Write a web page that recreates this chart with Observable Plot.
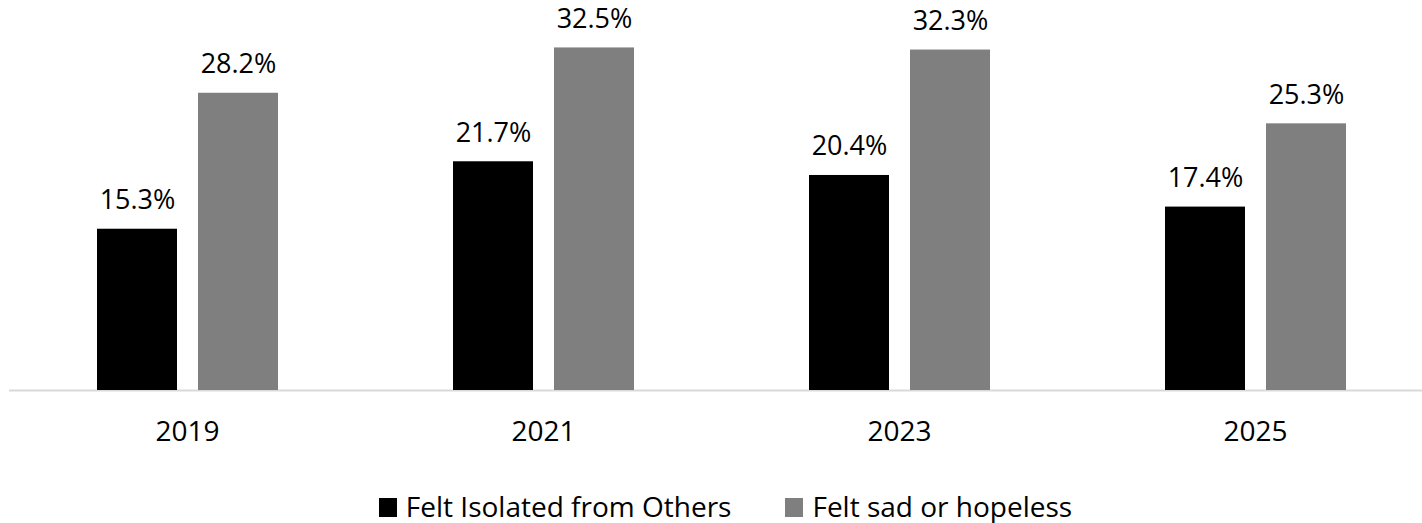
<!DOCTYPE html>
<html>
<head>
<meta charset="utf-8">
<script src="https://cdn.jsdelivr.net/npm/d3@7"></script>
<script src="https://cdn.jsdelivr.net/npm/@observablehq/plot@0.6"></script>
<style>
  html, body { margin: 0; padding: 0; background: #fff; }
  body { width: 1422px; height: 523px; overflow: hidden; font-family: "Open Sans", sans-serif; }
  #legend { display: flex; justify-content: center; align-items: center; gap: 54px; margin-top: 22px; padding-left: 29px; font-size: 28px; color: #000; line-height: 1; }
  .item { display: flex; align-items: center; gap: 9px; }
  .sw { width: 18px; height: 19px; display: inline-block; position: relative; top: 1px; }
</style>
</head>
<body>
<div id="chart"></div>
<div id="legend"></div>
<script>
const years = ["2019", "2021", "2023", "2025"];
const isolated = [15.3, 21.7, 20.4, 17.4];
const sad = [28.2, 32.5, 32.3, 25.3];
const seriesNames = ["Felt Isolated from Others", "Felt sad or hopeless"];
const seriesColors = ["#000000", "#7f7f7f"];

const data = years.flatMap((yr, i) => [
  {year: yr, series: seriesNames[0], value: isolated[i]},
  {year: yr, series: seriesNames[1], value: sad[i]}
]);

const chart = Plot.plot({
  width: 1422,
  height: 470,
  marginLeft: 8,
  marginRight: -12,
  marginTop: 0,
  marginBottom: 80,
  style: {fontFamily: "'Open Sans', sans-serif", background: "#fff", color: "#000"},
  fx: {domain: years, padding: 0, label: null},
  x: {domain: seriesNames, paddingInner: 0.2105, paddingOuter: 0.865, axis: null},
  y: {domain: [0, 37], axis: null},
  color: {domain: seriesNames, range: seriesColors},
  marks: [
    Plot.ruleY([0], {stroke: "#d9d9d9", strokeWidth: 2}),
    Plot.barY(data, {fx: "year", x: "series", y: "value", fill: "series"}),
    Plot.text(data, {fx: "year", x: "series", y: "value", text: d => d.value.toFixed(1) + "%", dy: -20, lineAnchor: "bottom", fontSize: 27, fill: "#000"}),
    Plot.axisFx({anchor: "bottom", tickSize: 0, tickPadding: 31, fontSize: 28, label: null, fill: "#000"})
  ]
});
document.getElementById("chart").appendChild(chart);

const legend = document.getElementById("legend");
seriesNames.forEach((name, i) => {
  const item = document.createElement("span");
  item.className = "item";
  const sw = document.createElement("span");
  sw.className = "sw";
  sw.style.background = seriesColors[i];
  const label = document.createElement("span");
  label.textContent = name;
  item.appendChild(sw);
  item.appendChild(label);
  legend.appendChild(item);
});
</script>
</body>
</html>
